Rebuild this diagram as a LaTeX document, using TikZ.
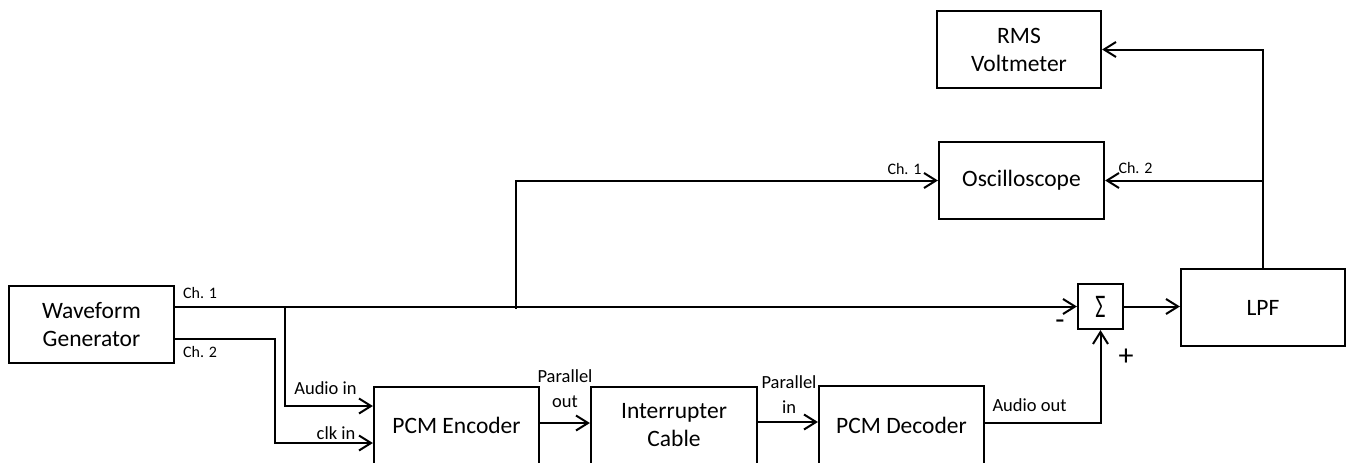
\documentclass[tikz,border=0pt]{standalone}
\usepackage{fontspec}
\setmainfont{Carlito}
\usetikzlibrary{arrows.meta,calc}

\tikzset{
  block/.style={draw, line width=2.2pt, inner sep=0pt, align=center,
    font=\fontsize{23.5}{28}\selectfont},
  wire/.style={line width=2pt},
  arr/.style={wire, -{Straight Barb[length=12pt,width=15pt,line width=2pt]}},
  portlbl/.style={inner sep=0pt, align=center, font=\fontsize{18.5}{25}\selectfont},
  chlbl/.style={inner sep=0pt, font=\fontsize{16}{18}\selectfont},
  signlbl/.style={inner sep=0pt, font=\fontsize{30}{30}\selectfont}
}

\begin{document}
\begin{tikzpicture}[x=1pt, y=-1pt]
\useasboundingbox (0,0) rectangle (1350,463);
\clip (0,0) rectangle (1350,463);

% blocks
\node[block, minimum width=165pt, minimum height=77pt] (wg)  at (91.5,324.5) {Waveform\\Generator};
\node[block, minimum width=165pt, minimum height=77pt] (enc) at (456.5,425.5) {PCM Encoder};
\node[block, minimum width=166pt, minimum height=77pt] (cab) at (674,425.5) {Interrupter\\Cable};
\node[block, minimum width=165pt, minimum height=78pt] (dec) at (901.5,425) {PCM Decoder};
\node[block, minimum width=45pt, minimum height=45pt] (sum) at (1100.5,306.5) {\fontsize{22}{22}\selectfont\scalebox{1}[1.5]{Σ}};
\node[block, minimum width=164pt, minimum height=77pt] (lpf) at (1263,307.5) {LPF};
\node[block, minimum width=165pt, minimum height=77pt] (osc) at (1021.5,180.5) {Oscilloscope};
\node[block, minimum width=164pt, minimum height=77pt] (rms) at (1019,49.5) {RMS\\Voltmeter};

% branch points and bends
\coordinate (ch1out) at (wg.east |- sum.west);
\coordinate (ch2out) at (174,339);
\coordinate (tapA) at (285,306.5);
\coordinate (tapB) at (516,308.5);
\coordinate (bendclk) at (275,339);
\coordinate (ainpt) at (enc.west |- 0,406);
\coordinate (clkpt) at (enc.west |- 0,443);

% channel 1 to the summer, with taps
\draw[arr] (ch1out) -- (sum.west);
\draw[arr] (tapA) |- (ainpt);
\draw[arr] (tapB) |- (osc.west);

% channel 2 as clock
\draw[arr] (ch2out) -- (bendclk) |- (clkpt);

% PCM chain
\draw[arr] (enc.east |- 0,423) -- (cab.west |- 0,423);
\draw[arr] (cab.east |- 0,422) -- (dec.west |- 0,422);
\draw[arr] (dec.east |- 0,423) -| (sum.south);

% summer to filter and instruments
\draw[arr] (sum.east) -- (lpf.west |- sum.east);
\draw[arr] (lpf.north) |- (rms.east);
\draw[arr] (lpf.north |- osc.east) -- (osc.east);

% labels
\node[chlbl, anchor=west] (lch1) at (183,293) {Ch. 1};
\node[chlbl, anchor=west] (lch2) at (183,352) {Ch. 2};
\node[portlbl] (lain) at (325.5,388) {Audio in};
\node[portlbl] (lclk) at (336,433) {clk in};
\node[portlbl] (lpo) at (565,389) {Parallel\\out};
\node[portlbl] (lpi) at (789,395) {Parallel\\in};
\node[portlbl] (laout) at (1029.5,405) {Audio out};
\node[chlbl] (loch1) at (904.5,169) {Ch. 1};
\node[chlbl] (loch2) at (1135.5,168) {Ch. 2};
\node[signlbl] (lminus) at (1060,325) {-};
\node[signlbl] (lplus) at (1126,357) {+};
\end{tikzpicture}
\end{document}
